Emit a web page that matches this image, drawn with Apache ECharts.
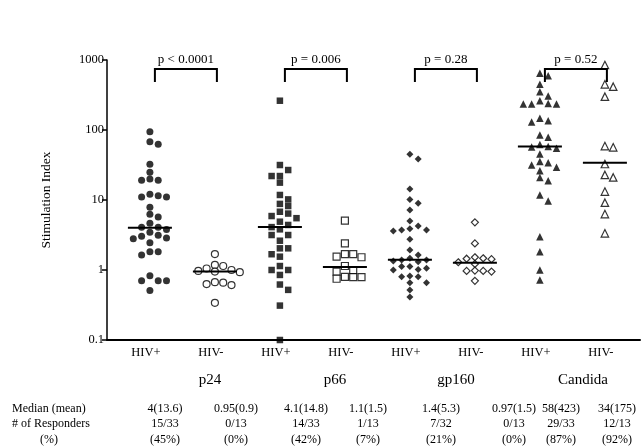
<!DOCTYPE html>
<html><head><meta charset="utf-8">
<script src="https://cdn.jsdelivr.net/npm/echarts@6/dist/echarts.min.js"></script>
<style>html,body{margin:0;padding:0;background:#fff}#c{width:644px;height:446px}</style>
</head><body><div id="c"></div>
<script>
// ---------- data ----------
const groupLabels = ['HIV+','HIV-','HIV+','HIV-','HIV+','HIV-','HIV+','HIV-'];
const antigens = ['p24','p66','gp160','Candida'];
const yTicks = [0.1, 1, 10, 100, 1000];

const p24Pos = [94.6, 62.5, 68, 32.4, 24.9, 20, 19.1, 19.1, 12.1, 11, 11, 11.5, 7.9, 5.7, 6.25, 4.65, 4.07, 4.07, 3.46, 3.8, 3.03, 2.8, 2.87, 3.13, 2.45, 1.83, 1.64, 1.83, 0.83, 0.7, 0.7, 0.7, 0.51];
const p24Neg = [1.69, 1.18, 1.14, 1.05, 0.97, 0.95, 0.93, 1.0, 0.66, 0.61, 0.63, 0.67, 0.34];
const p66Pos = [262, 31.6, 26.8, 22, 22, 17.7, 11.8, 10.2, 8.8, 8.2, 6.8, 6.4, 5.9, 5.5, 4.9, 4.4, 4.1, 3.81, 3.16, 3.16, 2.62, 2.04, 2.04, 1.68, 1.55, 1.14, 1.0, 1.0, 0.85, 0.62, 0.52, 0.31, 0.1];
const p66Neg = [5.06, 2.4, 1.69, 1.52, 1.55, 1.69, 1.14, 0.95, 1.0, 0.79, 0.75, 0.79, 0.80];
const gp160Pos = [45, 38.5, 14.4, 10.2, 9.0, 7.2, 5.0, 4.25, 3.9, 3.73, 3.73, 3.6, 2.74, 1.93, 1.64, 1.47, 1.39, 1.39, 1.34, 1.31, 1.12, 1.12, 1.06, 1.02, 1.0, 0.82, 0.8, 0.8, 0.66, 0.66, 0.52, 0.41];
const gp160Neg = [4.8, 2.4, 1.47, 1.45, 1.29, 1.43, 1.52, 1.22, 0.98, 0.97, 0.95, 0.97, 0.70];
const candidaPos = [645, 597, 450, 353, 306, 262, 235, 235, 235, 240, 136, 147, 130, 85, 78.6, 62, 58, 57, 55, 45.4, 34, 31.6, 35.4, 29.3, 26.2, 21, 18.9, 9.7, 11.8, 2.99, 1.83, 1.0, 0.72];
const candidaNeg = [849, 416, 450, 299, 56.5, 59, 32.7, 21, 22.8, 13.2, 9.15, 6.3, 3.34];

const medianLines = [4, 0.95, 4.1, 1.1, 1.4, 1.27, 58, 34];
const pValues = ['p < 0.0001', 'p = 0.006', 'p = 0.28', 'p = 0.52'];

const rowHeaders = ['Median (mean)', '# of Responders', '(%)'];
const medianMean = ['4(13.6)', '0.95(0.9)', '4.1(14.8)', '1.1(1.5)', '1.4(5.3)', '0.97(1.5)', '58(423)', '34(175)'];
const responders = ['15/33', '0/13', '14/33', '1/13', '7/32', '0/13', '29/33', '12/13'];
const percents = ['(45%)', '(0%)', '(42%)', '(7%)', '(21%)', '(0%)', '(87%)', '(92%)'];

// ---------- layout ----------
const FONT = '"Liberation Serif", "Times New Roman", serif';
const GRID = {left: 107, top: 60, width: 533, height: 280};
const X_MIN = -0.66, X_MAX = 7.54;
const unitPx = GRID.width / (X_MAX - X_MIN);
const decadePx = GRID.height / 4;
const colStepPx = 8.3;
const rowGapPx = 6.5;

// beeswarm layout: points on a column grid, no two in a column closer than rowGapPx
function swarm(values) {
  const order = values.map((v, i) => i).sort((a, b) => values[b] - values[a]);
  const placed = [];
  const offs = new Array(values.length);
  for (const i of order) {
    const y = Math.log10(values[i]) * decadePx;
    for (let k = 0; k < 40; k++) {
      const o = k === 0 ? 0 : (k % 2 ? (k + 1) / 2 : -k / 2);
      if (placed.every(p => p.o !== o || Math.abs(p.y - y) >= rowGapPx)) {
        offs[i] = o; placed.push({y, o}); break;
      }
    }
  }
  return offs;
}

const groupDefs = [
  {vals: p24Pos, symbol: 'circle', filled: true, size: 7},
  {vals: p24Neg, symbol: 'circle', filled: false, size: 7},
  {vals: p66Pos, symbol: 'rect', filled: true, size: 6.5},
  {vals: p66Neg, symbol: 'rect', filled: false, size: 7},
  {vals: gp160Pos, symbol: 'diamond', filled: true, size: 7},
  {vals: gp160Neg, symbol: 'diamond', filled: false, size: 7},
  {vals: candidaPos, symbol: 'triangle', filled: true, size: 7.5},
  {vals: candidaNeg, symbol: 'triangle', filled: false, size: 7.5}
];

const series = groupDefs.map((g, gi) => {
  const offs = swarm(g.vals);
  return {
    type: 'scatter',
    symbol: g.symbol,
    symbolSize: g.size,
    itemStyle: g.filled ? {color: '#000'} : {color: '#fff', borderColor: '#000', borderWidth: 1.2},
    data: g.vals.map((v, i) => [gi + offs[i] * colStepPx / unitPx, v]),
    z: 3,
    silent: true,
    animation: false
  };
});

// median lines
series.push({
  type: 'custom',
  data: medianLines.map((m, i) => [i, m]),
  renderItem: (params, api) => {
    const c = api.coord([api.value(0), api.value(1)]);
    return {type: 'line', shape: {x1: c[0] - 22, y1: c[1], x2: c[0] + 22, y2: c[1]},
            style: {stroke: '#000', lineWidth: 2}};
  },
  z: 4, silent: true, animation: false
});

// p-value brackets
series.push({
  type: 'custom',
  clip: false,
  data: pValues.map((p, k) => [2 * k, 1, 2 * k + 1]),
  encode: {x: 0, y: 1},
  renderItem: (params, api) => {
    const i = params.dataIndex;
    const xa = api.coord([api.value(0), 1])[0] + 5;
    const xb = api.coord([api.value(2), 1])[0] + 2;
    const top = params.coordSys.y + 9;
    const bottom = top + 13;
    return {type: 'group', children: [
      {type: 'polyline', shape: {points: [[xa, bottom], [xa, top], [xb, top], [xb, bottom]]},
       style: {stroke: '#000', lineWidth: 2, fill: null}},
      {type: 'text', x: (xa + xb) / 2, y: top - 9,
       style: {text: pValues[i], font: '13px ' + FONT, fill: '#000', align: 'center', verticalAlign: 'middle'}}
    ]};
  },
  z: 5, silent: true, animation: false
});

// antigen names and table text (text layout below the plot)
const antigenX = [210, 335, 456, 583];
const tableCols = [165, 236, 306, 368, 441, 514, 561, 617];
const tableRowsY = [409, 424, 440];
const graphic = [];
antigens.forEach((a, k) => graphic.push({type: 'text', x: antigenX[k], y: 380,
  style: {text: a, font: '15px ' + FONT, fill: '#000', align: 'center', verticalAlign: 'middle'}}));
[medianMean, responders, percents].forEach((row, r) => {
  row.forEach((t, c) => graphic.push({type: 'text', x: tableCols[c], y: tableRowsY[r],
    style: {text: t, font: '12px ' + FONT, fill: '#000', align: 'center', verticalAlign: 'middle'}}));
});
graphic.push({type: 'text', x: 12, y: tableRowsY[0], style: {text: rowHeaders[0], font: '12px ' + FONT, fill: '#000', align: 'left', verticalAlign: 'middle'}});
graphic.push({type: 'text', x: 12, y: tableRowsY[1], style: {text: rowHeaders[1], font: '12px ' + FONT, fill: '#000', align: 'left', verticalAlign: 'middle'}});
graphic.push({type: 'text', x: 49, y: tableRowsY[2], style: {text: rowHeaders[2], font: '12px ' + FONT, fill: '#000', align: 'center', verticalAlign: 'middle'}});

const chart = echarts.init(document.getElementById('c'));
chart.setOption({
  animation: false,
  backgroundColor: '#fff',
  grid: GRID,
  xAxis: {
    type: 'value', min: X_MIN, max: X_MAX,
    axisLine: {show: true, onZero: false, lineStyle: {color: '#000', width: 2}},
    axisTick: {show: false}, splitLine: {show: false},
    axisLabel: {customValues: groupLabels.map((_, i) => i), formatter: v => groupLabels[Math.round(v)],
                fontFamily: FONT, fontSize: 12.5, color: '#000', margin: 6, padding: [0, 8, 0, 0]}
  },
  yAxis: {
    type: 'log', logBase: 10, min: yTicks[0], max: yTicks[yTicks.length - 1],
    name: 'Stimulation Index', nameLocation: 'middle', nameGap: 54,
    nameTextStyle: {fontFamily: FONT, fontSize: 13.5, color: '#000'},
    axisLine: {show: true, onZero: false, lineStyle: {color: '#000', width: 1.5}},
    axisTick: {show: true, length: 5, lineStyle: {color: '#000', width: 1.5}},
    minorTick: {show: false}, splitLine: {show: false},
    axisLabel: {fontFamily: FONT, fontSize: 12.5, color: '#000', margin: 3,
                formatter: v => String(+Number(v).toPrecision(3))}
  },
  series: series,
  graphic: graphic
});
</script>
</body></html>
